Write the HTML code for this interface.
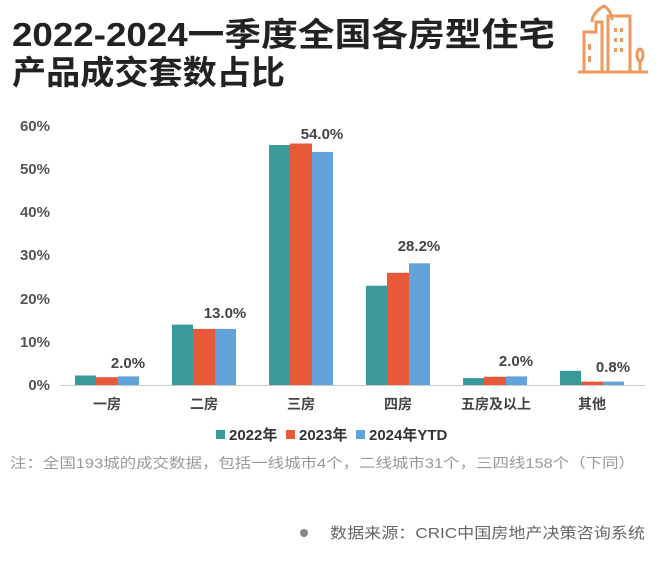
<!DOCTYPE html>
<html><head><meta charset="utf-8"><style>
body{margin:0;width:660px;height:565px;background:#fff;overflow:hidden;font-family:"Liberation Sans","Noto Sans CJK SC",sans-serif;}
</style></head><body>
<svg width="660" height="565" xmlns="http://www.w3.org/2000/svg" style="position:absolute;left:0;top:0">
<text x="12" y="46" font-size="33" font-weight="bold" fill="#222" textLength="543" lengthAdjust="spacingAndGlyphs" font-family="Liberation Sans,Noto Sans CJK SC,sans-serif">2022-2024一季度全国各房型住宅</text>
<text x="12" y="84" font-size="33" font-weight="bold" fill="#222" textLength="273" lengthAdjust="spacingAndGlyphs" font-family="Liberation Sans,Noto Sans CJK SC,sans-serif">产品成交套数占比</text>
<g fill="none" stroke="#ee9a5e" stroke-width="3">
<path d="M578 72H648"/><path d="M584 72V32h12V22h6V72"/><path d="M592 22c0-8 8-14 12-16 4 2 8 8 8 14"/><path d="M608 72V16h22V72"/><path d="M640 72V60"/><ellipse cx="640" cy="55" rx="3" ry="6"/>
</g>
<g fill="#ee9a5e"><rect x="588" y="44" width="3" height="6"/><rect x="588" y="56" width="3" height="6"/><rect x="614" y="28" width="3" height="4"/><rect x="620" y="28" width="3" height="4"/><rect x="614" y="38" width="3" height="4"/><rect x="620" y="38" width="3" height="4"/><rect x="614" y="48" width="3" height="4"/><rect x="620" y="48" width="3" height="4"/></g>
<g font-size="15" font-weight="bold" fill="#555" text-anchor="end" font-family="Liberation Sans,sans-serif">
<text x="50" y="390">0%</text><text x="50" y="347">10%</text><text x="50" y="304">20%</text><text x="50" y="260">30%</text><text x="50" y="217">40%</text><text x="50" y="174">50%</text><text x="50" y="131">60%</text>
</g>
<line x1="60" y1="385.5" x2="645" y2="385.5" stroke="#ccc" stroke-width="1"/>
<g>
<rect x="75" y="375.5" width="21" height="9.5" fill="#3a9a9a"/><rect x="96" y="377.2" width="22" height="7.8" fill="#e8593a"/><rect x="118" y="376.4" width="21" height="8.6" fill="#62a4d9"/>
<rect x="172" y="324.6" width="21" height="60.4" fill="#3a9a9a"/><rect x="193" y="328.9" width="22" height="56.1" fill="#e8593a"/><rect x="215" y="328.9" width="21" height="56.1" fill="#62a4d9"/>
<rect x="269" y="145" width="21" height="240" fill="#3a9a9a"/><rect x="290" y="143.5" width="22" height="241.5" fill="#e8593a"/><rect x="312" y="151.9" width="21" height="233.1" fill="#62a4d9"/>
<rect x="366" y="285.7" width="21" height="99.3" fill="#3a9a9a"/><rect x="387" y="272.8" width="22" height="112.2" fill="#e8593a"/><rect x="409" y="263.3" width="21" height="121.7" fill="#62a4d9"/>
<rect x="463" y="378.1" width="21" height="6.9" fill="#3a9a9a"/><rect x="484" y="376.8" width="22" height="8.2" fill="#e8593a"/><rect x="506" y="376.4" width="21" height="8.6" fill="#62a4d9"/>
<rect x="560" y="370.8" width="21" height="14.2" fill="#3a9a9a"/><rect x="581" y="381.6" width="22" height="3.4" fill="#e8593a"/><rect x="603" y="381.6" width="21" height="3.4" fill="#62a4d9"/>
</g>
<g font-size="15" font-weight="bold" fill="#444" text-anchor="middle" font-family="Liberation Sans,sans-serif">
<text x="128" y="368">2.0%</text><text x="225" y="318">13.0%</text><text x="322" y="139">54.0%</text><text x="419" y="251">28.2%</text><text x="516" y="366">2.0%</text><text x="613" y="372">0.8%</text>
</g>
<g font-size="14" font-weight="bold" fill="#444" text-anchor="middle" font-family="Liberation Sans,Noto Sans CJK SC,sans-serif">
<text x="107" y="409">一房</text><text x="204" y="409">二房</text><text x="301" y="409">三房</text><text x="398" y="409">四房</text><text x="496" y="409">五房及以上</text><text x="592" y="409">其他</text>
</g>
<g font-size="15" font-weight="bold" fill="#333" font-family="Liberation Sans,Noto Sans CJK SC,sans-serif">
<rect x="216" y="430" width="9" height="9" fill="#3a9a9a"/><text x="229" y="440">2022年</text>
<rect x="286" y="430" width="9" height="9" fill="#e8593a"/><text x="299" y="440">2023年</text>
<rect x="356" y="430" width="9" height="9" fill="#62a4d9"/><text x="369" y="440">2024年YTD</text>
</g>
<text x="10" y="468" font-size="14" fill="#999" textLength="625" lengthAdjust="spacingAndGlyphs" font-family="Liberation Sans,Noto Sans CJK SC,sans-serif">注：全国193城的成交数据，包括一线城市4个，二线城市31个，三四线158个（下同）</text>
<circle cx="304" cy="533" r="4" fill="#888"/>
<text x="330" y="538" font-size="15" fill="#666" textLength="315" lengthAdjust="spacingAndGlyphs" font-family="Liberation Sans,Noto Sans CJK SC,sans-serif">数据来源：CRIC中国房地产决策咨询系统</text>
</svg>
</body></html>
